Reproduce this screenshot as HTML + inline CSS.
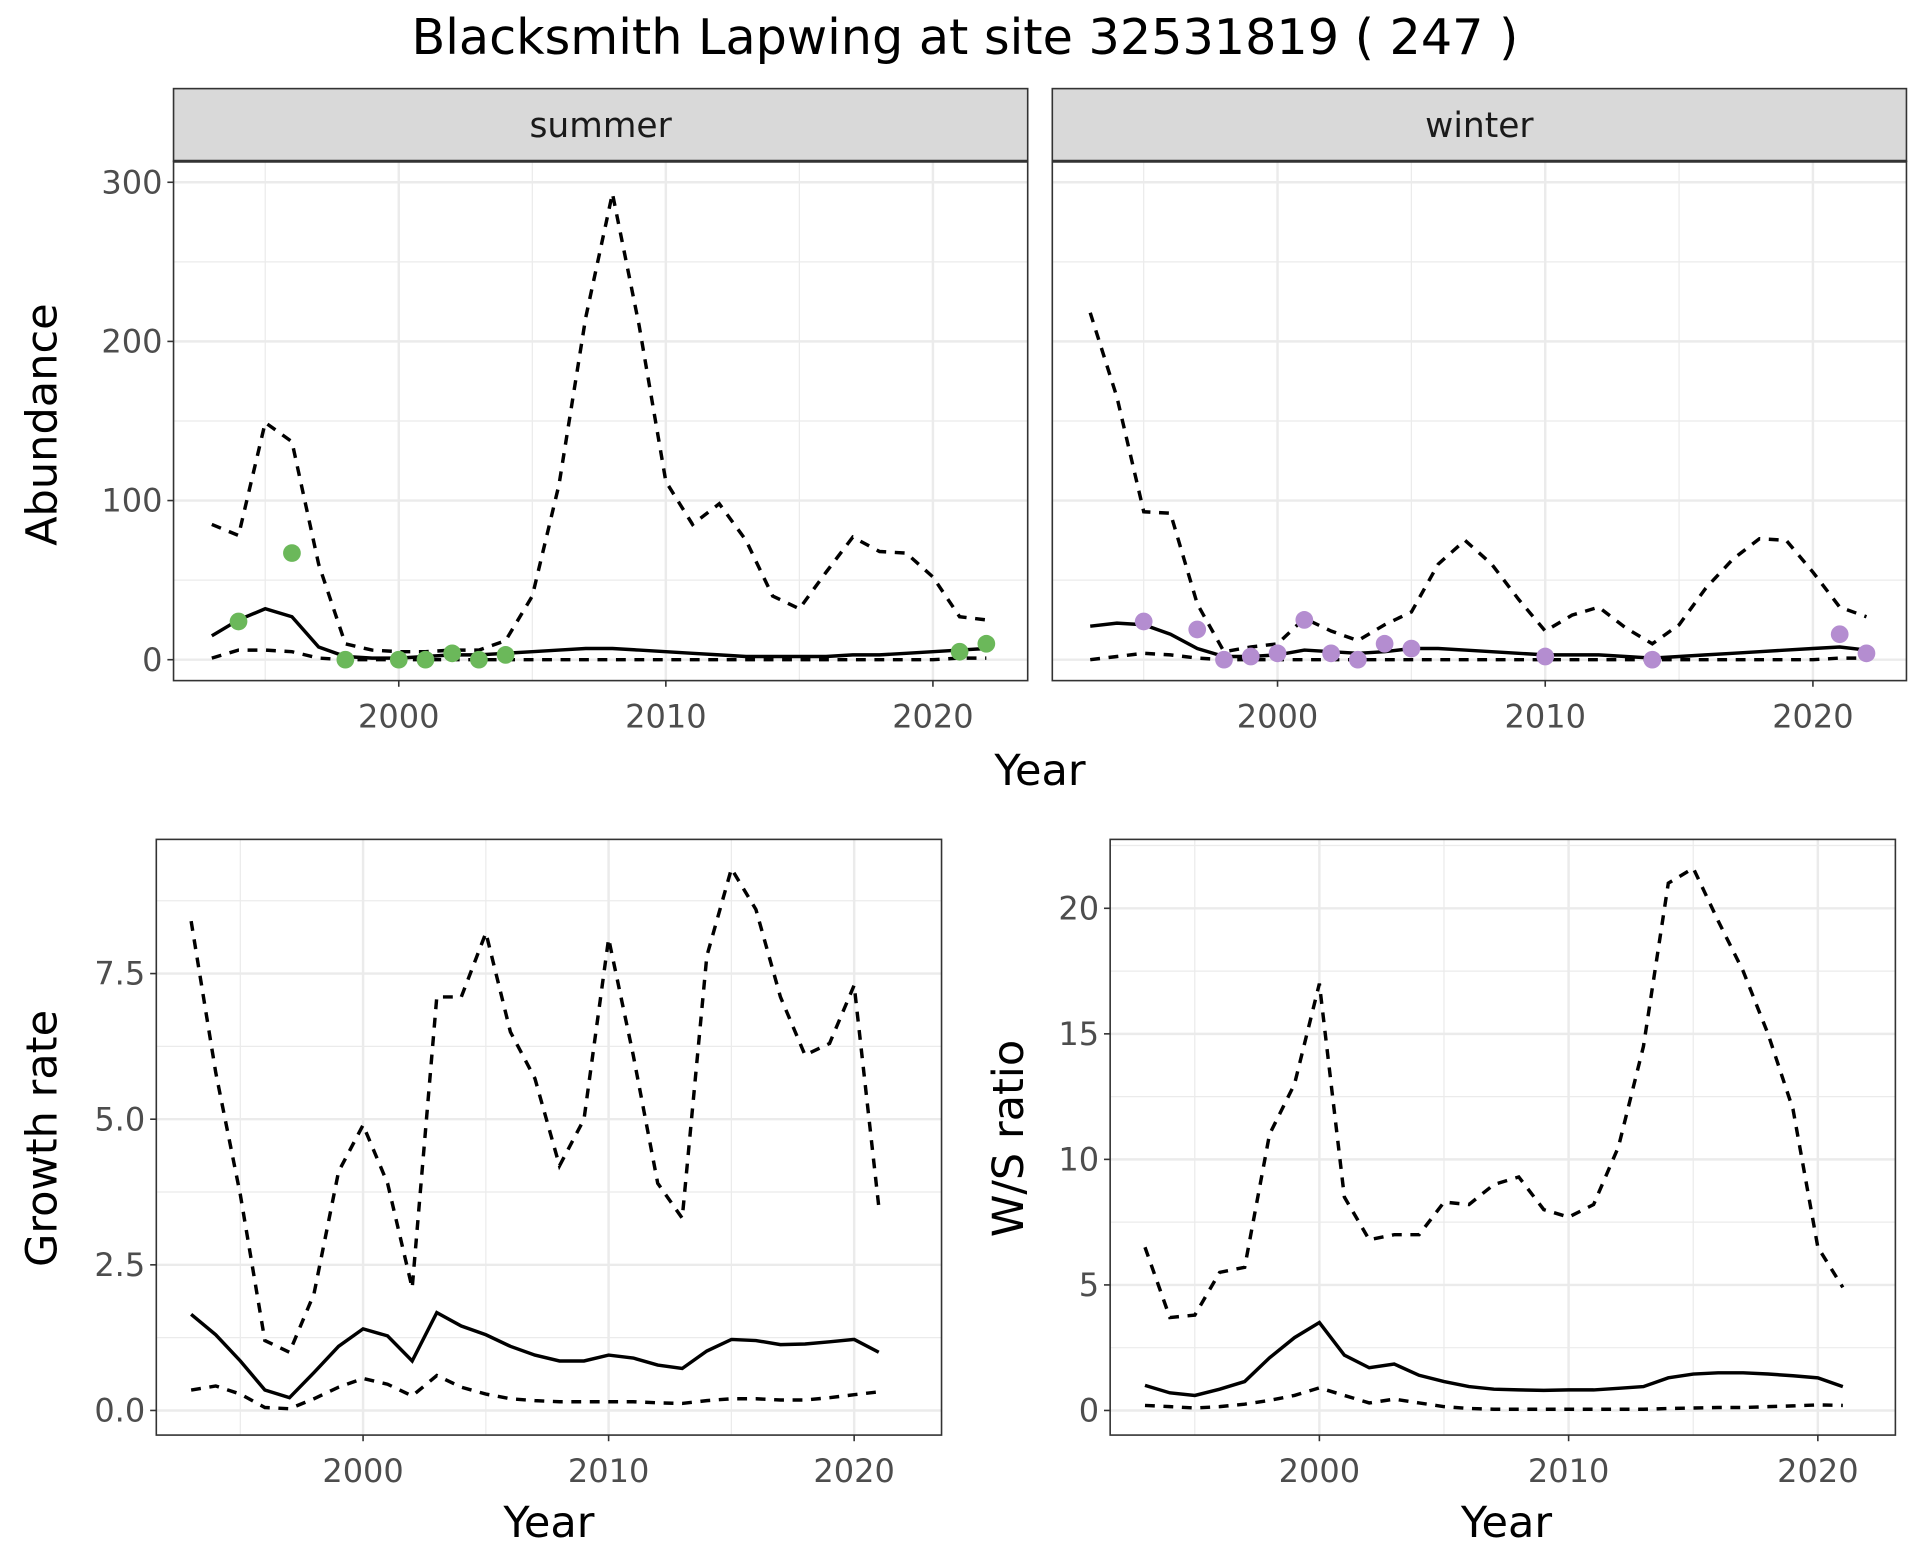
<!DOCTYPE html>
<html><head><meta charset="utf-8"><style>
html,body{margin:0;padding:0;background:#fff;}
svg{display:block;font-family:"DejaVu Sans","Liberation Sans",sans-serif;}
</style></head><body>
<svg id="chart" width="1920" height="1560" viewBox="0 0 1560 1267.5" xmlns="http://www.w3.org/2000/svg">
<text x="784" y="44" font-size="40" text-anchor="middle" fill="#000">Blacksmith Lapwing at site 32531819 ( 247 )</text>
</svg>
<script>
const yearsAb = [1993,1994,1995,1996,1997,1998,1999,2000,2001,2002,2003,2004,2005,2006,2007,2008,2009,2010,2011,2012,2013,2014,2015,2016,2017,2018,2019,2020,2021,2022];
const sumUpper = [85,78,149,137,60,10,6,5,5,6,6,12,40,110,215,293,210,112,85,98,75,40,32,55,77,68,67,52,27,25];
const sumMean = [15,25,32,27,8,2,1,1,2,3,3,4,5,6,7,7,6,5,4,3,2,2,2,2,3,3,4,5,6,7];
const sumLower = [1,6,6,5,1,0,0,0,0,0,0,0,0,0,0,0,0,0,0,0,0,0,0,0,0,0,0,0,1,1];
const sumPtYears = [1994,1996,1998,2000,2001,2002,2003,2004,2021,2022];
const sumPtVals = [24,67,0,0,0,4,0,3,5,10];
const winUpper = [218,165,93,92,35,5,8,10,26,18,12,22,30,60,75,60,38,18,28,33,20,10,22,45,63,76,75,55,33,27];
const winMean = [21,23,22,16,7,2,2,3,6,5,4,5,7,7,6,5,4,3,3,3,2,1,2,3,4,5,6,7,8,6];
const winLower = [0,2,4,3,1,0,0,0,0,0,0,0,0,0,0,0,0,0,0,0,0,0,0,0,0,0,0,0,1,1];
const winPtYears = [1995,1997,1998,1999,2000,2001,2002,2003,2004,2005,2010,2014,2021,2022];
const winPtVals = [24,19,0,2,4,25,4,0,10,7,2,0,16,4];
const yearsR = [1993,1994,1995,1996,1997,1998,1999,2000,2001,2002,2003,2004,2005,2006,2007,2008,2009,2010,2011,2012,2013,2014,2015,2016,2017,2018,2019,2020,2021];
const grUpper = [8.4,5.8,3.7,1.2,1.0,2.0,4.1,4.9,3.9,2.1,7.1,7.1,8.2,6.5,5.7,4.2,5.0,8.1,6.1,3.9,3.3,7.8,9.3,8.6,7.1,6.1,6.3,7.3,3.5];
const grMean = [1.65,1.3,0.85,0.35,0.22,0.65,1.1,1.4,1.28,0.85,1.68,1.45,1.3,1.1,0.95,0.85,0.85,0.95,0.9,0.78,0.72,1.02,1.22,1.2,1.13,1.14,1.18,1.22,1.0];
const grLower = [0.35,0.42,0.28,0.05,0.03,0.2,0.4,0.55,0.45,0.25,0.6,0.4,0.28,0.2,0.17,0.15,0.15,0.15,0.15,0.13,0.12,0.17,0.2,0.2,0.18,0.18,0.22,0.27,0.32];
const wsUpper = [6.5,3.7,3.8,5.5,5.7,11,13,17,8.5,6.8,7.0,7.0,8.3,8.2,9.0,9.3,8.0,7.7,8.2,10.5,14.5,21,21.6,19.5,17.5,15,12,6.5,4.9];
const wsMean = [1.0,0.7,0.6,0.85,1.15,2.1,2.9,3.5,2.2,1.7,1.85,1.4,1.15,0.95,0.85,0.82,0.8,0.82,0.82,0.88,0.95,1.3,1.45,1.5,1.5,1.45,1.38,1.3,0.95];
const wsLower = [0.2,0.15,0.1,0.15,0.25,0.4,0.6,0.9,0.6,0.3,0.45,0.3,0.15,0.08,0.05,0.05,0.05,0.05,0.05,0.05,0.05,0.08,0.1,0.12,0.12,0.15,0.18,0.22,0.2];
const xTicks = [2000,2010,2020];
const abTicks = [0,100,200,300];
const grTicks = [0,2.5,5,7.5];
const grTickLabels = ["0.0","2.5","5.0","7.5"];
const wsTicks = [0,5,10,15,20];

const svg = document.getElementById('chart');
const NS = 'http://www.w3.org/2000/svg';
function mk(tag, attrs, parent){
  const e = document.createElementNS(NS, tag);
  for (const k in attrs) e.setAttribute(k, attrs[k]);
  (parent||svg).appendChild(e);
  return e;
}
function panel(p){
  const g = mk('g', {});
  
  
  const X = v => p.x2000 + (v-2000)*p.xpu;
  const Y = v => p.y0 - v*p.ypu;
  mk('rect', {x:p.l, y:p.t, width:p.r-p.l, height:p.b-p.t, fill:'#fff'}, g);
  for (let i=0;i<p.yTicks.length;i++){
    const mid = p.yTicks[i] + (p.yTicks[1]-p.yTicks[0])/2;
    const yy = Y(mid); if (yy>p.t && yy<p.b) mk('line',{x1:p.l,x2:p.r,y1:yy,y2:yy,stroke:'#ebebeb','stroke-width':1},g);
  }
  [1995,2005,2015].forEach(v=>{const xx=X(v); mk('line',{x1:xx,x2:xx,y1:p.t,y2:p.b,stroke:'#ebebeb','stroke-width':1},g);});
  p.yTicks.forEach(v=>{const yy=Y(v); mk('line',{x1:p.l,x2:p.r,y1:yy,y2:yy,stroke:'#ebebeb','stroke-width':2},g);});
  xTicks.forEach(v=>{const xx=X(v); mk('line',{x1:xx,x2:xx,y1:p.t,y2:p.b,stroke:'#ebebeb','stroke-width':2},g);});
  const series = [[p.upper,'8,7'],[p.lower,'8,7'],[p.mean,null]];
  series.forEach((s,si)=>{
    const d = s[0].map((v,i)=>(i?'L':'M')+X(p.years[i]).toFixed(1)+','+Y(v).toFixed(1)).join('');
    const path = mk('path',{d:d,fill:'none',stroke:'#000','stroke-width':2.8},g);
    if (s[1]) path.setAttribute('stroke-dasharray', s[1]);
    
    
  });
  if (p.ptYears){
    p.ptYears.forEach((yr,i)=>{
      const c = mk('circle',{cx:X(yr),cy:Y(p.ptVals[i]),r:7.2,fill:p.ptColor},g);
      
      
    });
  }
  mk('rect',{x:p.l,y:p.t,width:p.r-p.l,height:p.b-p.t,fill:'none',stroke:'#333','stroke-width':1.3},g);
  if (p.showY){
    p.yTicks.forEach((v,i)=>{
      const yy=Y(v);
      mk('line',{x1:p.l-5,x2:p.l,y1:yy,y2:yy,stroke:'#333','stroke-width':1.3},g);
      const t = mk('text',{x:p.l-9,y:yy+9,'font-size':26,'text-anchor':'end',fill:'#4d4d4d'},g);
      t.textContent = p.yLabels ? p.yLabels[i] : String(v);
    });
  }
  xTicks.forEach(v=>{
    const xx=X(v);
    mk('line',{x1:xx,x2:xx,y1:p.b,y2:p.b+5,stroke:'#333','stroke-width':1.3},g);
    const t = mk('text',{x:xx,y:p.b+38,'font-size':26,'text-anchor':'middle',fill:'#4d4d4d'},g);
    t.textContent = String(v);
  });
  if (p.strip){
    mk('rect',{x:p.l,y:p.st,width:p.r-p.l,height:p.t-p.st,fill:'#d9d9d9',stroke:'#333','stroke-width':1.3},g);
    mk('line',{x1:p.l,x2:p.r,y1:p.t,y2:p.t,stroke:'#333','stroke-width':2.5},g);
    const t = mk('text',{x:(p.l+p.r)/2,y:(p.st+p.t)/2+10,'font-size':28,'text-anchor':'middle',fill:'#1a1a1a'},g);
    
    
    t.textContent = p.strip;
  }
}
panel({name:'summer-panel',l:141,r:835,t:131,b:553,st:72,x2000:324,xpu:21.7,y0:536,ypu:1.293,yTicks:abTicks,showY:true,years:yearsAb,upper:sumUpper,mean:sumMean,lower:sumLower,ptYears:sumPtYears,ptVals:sumPtVals,ptColor:'#6bb85a',strip:'summer'});
panel({name:'winter-panel',l:855,r:1549,t:131,b:553,st:72,x2000:1038,xpu:21.75,y0:536,ypu:1.293,yTicks:abTicks,showY:false,years:yearsAb,upper:winUpper,mean:winMean,lower:winLower,ptYears:winPtYears,ptVals:winPtVals,ptColor:'#b48dd0',strip:'winter'});
panel({name:'growth-rate-panel',l:127,r:765,t:682,b:1166,x2000:295,xpu:19.95,y0:1146,ypu:47.33,yTicks:grTicks,yLabels:grTickLabels,showY:true,years:yearsR,upper:grUpper,mean:grMean,lower:grLower});
panel({name:'ws-ratio-panel',l:902,r:1540,t:682,b:1166,x2000:1072,xpu:20.25,y0:1146,ypu:20.4,yTicks:wsTicks,showY:true,years:yearsR,upper:wsUpper,mean:wsMean,lower:wsLower});
function label(txt,x,y,rot,name){
  const t = mk('text',{x:x,y:y,'font-size':35,'text-anchor':'middle',fill:'#000'});
  if (rot) t.setAttribute('transform','rotate(-90 '+x+' '+y+')');
  
  
  t.textContent = txt;
}
label('Year',845,638,false,'top-x-axis-title');
label('Abundance',46,345,true,'abundance-axis-title');
label('Year',446,1249,false,'growth-x-axis-title');
label('Growth rate',46,925,true,'growth-rate-axis-title');
label('Year',1224,1249,false,'ws-x-axis-title');
label('W/S ratio',831,925,true,'ws-ratio-axis-title');
</script>
</body></html>
